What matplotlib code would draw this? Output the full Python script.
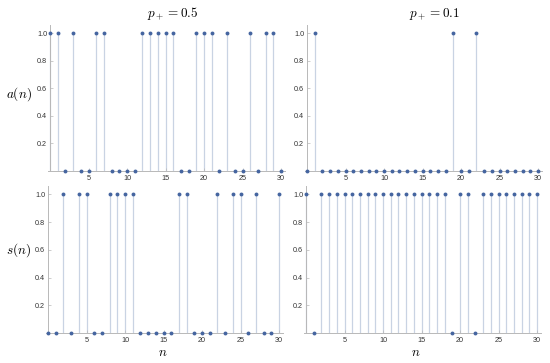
import matplotlib
matplotlib.use("Agg")
import matplotlib.pyplot as plt
import numpy as np

plt.rcParams['mathtext.fontset'] = 'cm'

n = list(range(0, 31))
a_half = [1,1,0,1,0,0,1,1,0,0,0,0,1,1,1,1,1,0,0,1,1,1,0,1,0,0,1,0,1,1,0]
s_half = [0,0,1,0,1,1,0,0,1,1,1,1,0,0,0,0,0,1,1,0,0,0,1,0,1,1,0,1,0,0,1]
a_tenth = [0,1,0,0,0,0,0,0,0,0,0,0,0,0,0,0,0,0,0,1,0,0,1,0,0,0,0,0,0,0,0]
s_tenth = [1,0,1,1,1,1,1,1,1,1,1,1,1,1,1,1,1,1,1,0,1,1,0,1,1,1,1,1,1,1,1]

titles = [r"$p_+ = 0.5$", r"$p_+ = 0.1$"]
ylabels = [r"$a(n)$", r"$s(n)$"]
xticks = [5, 10, 15, 20, 25, 30]
yticks = [0.2, 0.4, 0.6, 0.8, 1.0]
yticklabels = ["0.2", "0.4", "0.6", "0.8", "1.0"]

W, H = 550, 363
fig = plt.figure(figsize=(W/100, H/100), dpi=100)

def px_axes(x0, x1, ytop, ybot):
    return fig.add_axes([x0/W, (H-ybot)/H, (x1-x0)/W, (ybot-ytop)/H])

PT_COLOR = '#4565a0'
STEM_COLOR = '#c9d3e3'
AX_COLOR = '#b8b8b8'

# (left px, right px, top px, bottom px)
boxes = [
    (47.7, 284.9, 25, 171),
    (304.7, 541.9, 25, 171),
    (45.7, 282.9, 186, 333),
    (303.7, 540.9, 186, 333),
]
data = [a_half, a_tenth, s_half, s_tenth]

for i, (box, vals) in enumerate(zip(boxes, data)):
    ax = px_axes(*box)
    ax.set_xlim(-0.3, 30.5)
    ax.set_ylim(0, 1.06)
    ax.vlines(n, 0, vals, color=STEM_COLOR, lw=0.9, zorder=1)
    ax.plot(n, vals, 'o', color=PT_COLOR, ms=2.8, mec='none', clip_on=False, zorder=3)
    for sp in ['top', 'right']:
        ax.spines[sp].set_visible(False)
    ax.spines['left'].set_position(('data', 0))
    ax.spines['bottom'].set_position(('data', 0))
    for sp in ['left', 'bottom']:
        ax.spines[sp].set_color(AX_COLOR)
        ax.spines[sp].set_linewidth(0.7)
    ax.set_xticks(xticks)
    ax.set_xticklabels([str(t) for t in xticks], fontfamily='Liberation Sans', fontsize=5.2, color='#333333')
    ax.set_yticks(yticks)
    ax.set_yticklabels(yticklabels, fontfamily='Liberation Sans', fontsize=5.2, color='#333333')
    ax.tick_params(axis='both', direction='in', length=2.5, width=0.5, color=AX_COLOR, pad=2)
    ax.tick_params(axis='x', pad=3)
    ax.patch.set_alpha(0)

fig.text(173/W, 1-13/H, titles[0], ha='center', va='center', fontsize=9.5)
fig.text(435/W, 1-14/H, titles[1], ha='center', va='center', fontsize=9.5)
fig.text(19/W, 1-94/H, ylabels[0], ha='center', va='center', fontsize=9.5)
fig.text(19/W, 1-250/H, ylabels[1], ha='center', va='center', fontsize=9.5)
fig.text(163/W, 1-353/H, r"$n$", ha='center', va='center', fontsize=9.5)
fig.text(416/W, 1-353/H, r"$n$", ha='center', va='center', fontsize=9.5)

fig.savefig("out.png", dpi=100)
